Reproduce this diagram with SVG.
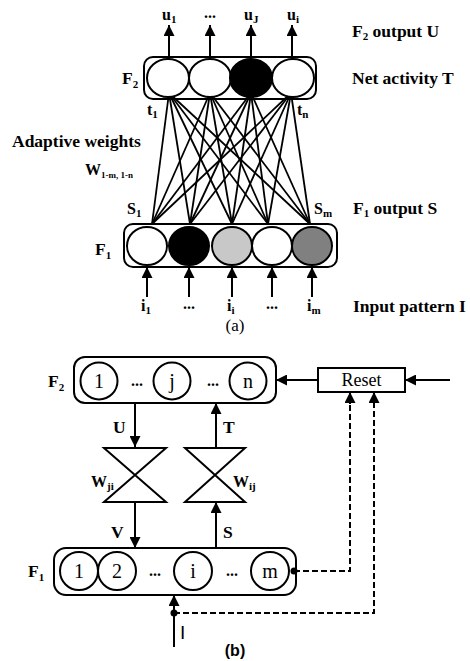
<svg xmlns="http://www.w3.org/2000/svg" width="470" height="661" viewBox="0 0 470 661">
<defs>
<marker id="ah" viewBox="0 0 10 10" refX="10" refY="5" markerWidth="11" markerHeight="11" markerUnits="userSpaceOnUse" orient="auto"><path d="M0,0 L10,5 L0,10 z" fill="#000"/></marker>
</defs>
<style>
text{font-family:"Liberation Serif","Times New Roman",serif;fill:#000}
.lbl{font-size:17.5px;font-weight:bold}
.sm{font-size:16px;font-weight:bold}
.sub{font-size:11px;font-weight:bold}
.box{fill:none;stroke:#000;stroke-width:2}
.el{stroke:#000;stroke-width:2}
.ln{stroke:#000;stroke-width:2;fill:none}
.w{stroke:#000;stroke-width:1.8}
.arr{stroke:#000;stroke-width:2;fill:none;marker-end:url(#ah)}
.dash{stroke:#000;stroke-width:2;fill:none;stroke-dasharray:6 3}
.num{font-size:20px;text-anchor:middle}
.mid{text-anchor:middle}
</style>
<rect width="470" height="661" fill="#fff"/>

<!-- ===== (a) ===== -->
<g id="a-weights">
<line class="w" x1="169" y1="93" x2="152" y2="224"/>
<line class="w" x1="169" y1="93" x2="190" y2="224"/>
<line class="w" x1="169" y1="93" x2="232" y2="224"/>
<line class="w" x1="169" y1="93" x2="268" y2="224"/>
<line class="w" x1="169" y1="93" x2="310" y2="224"/>
<line class="w" x1="210" y1="93" x2="152" y2="224"/>
<line class="w" x1="210" y1="93" x2="190" y2="224"/>
<line class="w" x1="210" y1="93" x2="232" y2="224"/>
<line class="w" x1="210" y1="93" x2="268" y2="224"/>
<line class="w" x1="210" y1="93" x2="310" y2="224"/>
<line class="w" x1="251" y1="93" x2="152" y2="224"/>
<line class="w" x1="251" y1="93" x2="190" y2="224"/>
<line class="w" x1="251" y1="93" x2="232" y2="224"/>
<line class="w" x1="251" y1="93" x2="268" y2="224"/>
<line class="w" x1="251" y1="93" x2="310" y2="224"/>
<line class="w" x1="291" y1="93" x2="152" y2="224"/>
<line class="w" x1="291" y1="93" x2="190" y2="224"/>
<line class="w" x1="291" y1="93" x2="232" y2="224"/>
<line class="w" x1="291" y1="93" x2="268" y2="224"/>
<line class="w" x1="291" y1="93" x2="310" y2="224"/>
</g>
<g id="a-outputs">
<line class="arr" x1="169" y1="59" x2="169" y2="25"/>
<line class="arr" x1="210" y1="59" x2="210" y2="25"/>
<line class="arr" x1="251" y1="59" x2="251" y2="25"/>
<line class="arr" x1="292" y1="59" x2="292" y2="25"/>
</g>
<g id="a-inputs">
<line class="arr" x1="147" y1="297" x2="147" y2="267"/>
<line class="arr" x1="189" y1="297" x2="189" y2="267"/>
<line class="arr" x1="232" y1="297" x2="232" y2="267"/>
<line class="arr" x1="272" y1="297" x2="272" y2="267"/>
<line class="arr" x1="312" y1="297" x2="312" y2="267"/>
</g>
<g id="a-F2">
<rect class="box" x="144" y="57" width="172" height="42" rx="9"/>
<ellipse class="el" cx="168" cy="78" rx="21" ry="19" fill="#fff"/>
<ellipse class="el" cx="210" cy="78" rx="21" ry="19" fill="#fff"/>
<ellipse class="el" cx="251" cy="78" rx="21" ry="19" fill="#000"/>
<ellipse class="el" cx="293" cy="78" rx="21" ry="19" fill="#fff"/>
<text class="lbl" x="122" y="84">F<tspan class="sub" dy="4">2</tspan></text>
</g>
<g id="a-F1">
<rect class="box" x="124" y="224" width="213" height="43" rx="9"/>
<ellipse class="el" cx="147" cy="246" rx="20" ry="19" fill="#fff"/>
<ellipse class="el" cx="189" cy="246" rx="20" ry="19" fill="#000"/>
<ellipse class="el" cx="232" cy="246" rx="20" ry="19" fill="#c8c8c8"/>
<ellipse class="el" cx="272" cy="246" rx="20" ry="19" fill="#fff"/>
<ellipse class="el" cx="312" cy="246" rx="20" ry="19" fill="#808080"/>
<text class="lbl" x="95" y="255">F<tspan class="sub" dy="4">1</tspan></text>
</g>
<g id="a-labels">
<text class="sm" x="162" y="20">u<tspan class="sub" dy="3">1</tspan></text>
<text class="sm mid" x="210" y="18">...</text>
<text class="sm" x="244" y="20">u<tspan class="sub" dy="3">J</tspan></text>
<text class="sm" x="287" y="20">u<tspan class="sub" dy="3">i</tspan></text>
<text class="lbl" x="352" y="37">F<tspan class="sub" dy="3">2</tspan><tspan dy="-3"> output U</tspan></text>
<text class="lbl" x="352" y="84">Net activity T</text>
<text class="sm" x="147" y="115">t<tspan class="sub" dy="3">1</tspan></text>
<text class="sm" x="297" y="115">t<tspan class="sub" dy="3">n</tspan></text>
<text class="lbl" x="12" y="147">Adaptive weights</text>
<text class="sm" x="85" y="175">W<tspan font-size="9px" dy="3">1-m, 1-n</tspan></text>
<text class="sm" x="127" y="214">S<tspan class="sub" dy="3">1</tspan></text>
<text class="sm" x="314" y="214">S<tspan class="sub" dy="3">m</tspan></text>
<text class="lbl" x="353" y="214">F<tspan class="sub" dy="3">1</tspan><tspan dy="-3"> output S</tspan></text>
<text class="sm" x="141" y="311">i<tspan class="sub" dy="3">1</tspan></text>
<text class="sm mid" x="189" y="309">...</text>
<text class="sm" x="227" y="311">i<tspan class="sub" dy="3">i</tspan></text>
<text class="sm mid" x="272" y="309">...</text>
<text class="sm" x="307" y="311">i<tspan class="sub" dy="3">m</tspan></text>
<text class="lbl" x="353" y="312">Input pattern I</text>
<text class="mid" font-size="17px" x="235" y="331">(a)</text>
</g>

<!-- ===== (b) ===== -->
<g id="b-connectors">
<line class="arr" x1="450" y1="380" x2="405" y2="380"/>
<line class="arr" x1="318" y1="380" x2="276" y2="380"/>
<line class="arr" x1="135" y1="403" x2="135" y2="447"/>
<line class="arr" x1="216" y1="447" x2="216" y2="403"/>
<line class="arr" x1="135" y1="502" x2="135" y2="548"/>
<line class="arr" x1="216" y1="548" x2="216" y2="502"/>
<line class="arr" x1="174" y1="647" x2="174" y2="595"/>
<path class="dash" d="M294,571 H350 V402"/>
<path class="dash" d="M174,613 H374 V402"/>
<line class="arr" x1="350" y1="404" x2="350" y2="392"/>
<line class="arr" x1="374" y1="404" x2="374" y2="392"/>
<circle cx="294" cy="571" r="3.5" fill="#000"/>
<circle cx="174" cy="613" r="3.5" fill="#000"/>
</g>
<g id="b-F2">
<rect class="box" x="74" y="357" width="202" height="46" rx="11"/>
<circle class="el" cx="99" cy="381" r="18.5" fill="#fff"/>
<circle class="el" cx="172" cy="381" r="18.5" fill="#fff"/>
<circle class="el" cx="248" cy="381" r="18.5" fill="#fff"/>
<text class="num" x="99" y="388">1</text>
<text class="num" x="172" y="388">j</text>
<text class="num" x="248" y="388">n</text>
<text class="sm mid" x="137" y="386">...</text>
<text class="sm mid" x="213" y="386">...</text>
<text class="lbl" x="48" y="387">F<tspan class="sub" dy="4">2</tspan></text>
</g>
<g id="b-reset">
<rect class="box" x="318" y="368" width="87" height="24"/>
<text class="mid" font-size="18px" x="361.5" y="386">Reset</text>
</g>
<g id="b-wji">
<path class="ln" d="M104,448 H166 L104,502 H166 Z"/>
<text class="sm" x="91" y="487">W<tspan class="sub" dy="3">ji</tspan></text>
</g>
<g id="b-wij">
<path class="ln" d="M185,448 H245 L185,502 H245 Z"/>
<text class="sm" x="233" y="487">W<tspan class="sub" dy="3">ij</tspan></text>
</g>
<g id="b-F1">
<rect class="box" x="54" y="548" width="242" height="47" rx="12"/>
<circle class="el" cx="79" cy="571" r="19" fill="#fff"/>
<circle class="el" cx="117" cy="571" r="19" fill="#fff"/>
<circle class="el" cx="193" cy="571" r="19" fill="#fff"/>
<circle class="el" cx="270" cy="571" r="19" fill="#fff"/>
<text class="num" x="79" y="578">1</text>
<text class="num" x="117" y="578">2</text>
<text class="num" x="193" y="578">i</text>
<text class="num" x="270" y="578">m</text>
<text class="sm mid" x="155" y="576">...</text>
<text class="sm mid" x="232" y="576">...</text>
<text class="lbl" x="28" y="577">F<tspan class="sub" dy="4">1</tspan></text>
</g>
<g id="b-labels">
<text class="lbl" x="113" y="433">U</text>
<text class="lbl" x="223" y="433">T</text>
<text class="lbl" x="111" y="538">V</text>
<text class="lbl" x="223" y="538">S</text>
<text x="180" y="639" style="font-family:'Liberation Sans',Arial,sans-serif;font-size:19px">I</text>
<text class="mid" x="235" y="656" style="font-family:'Liberation Sans',Arial,sans-serif;font-weight:bold;font-size:16px">(b)</text>
</g>
</svg>
